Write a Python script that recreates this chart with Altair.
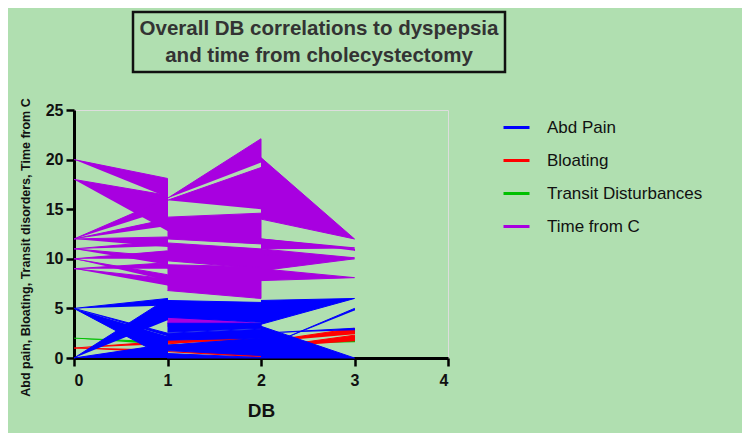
import altair as alt
import pandas as pd

series_names = ["Abd Pain", "Bloating", "Transit Disturbances", "Time from C"]
series_colors = ["#0000ff", "#ff0000", "#00c000", "#a800e0"]

# Each series is drawn as filled segments; (DB, value) pairs.
# Time from C
tc_x = [[0,1,1],[0,1,1],[0,1,1],[0,1,1],[0,1,1],[0,1,1],[0,1,1],[0,1,1],[0,1,1],[0,1,1],[0,1,1],
        [1,2,2],[1,2,2],[1,2,2,1],[1,2,2,1],[1,2,2,1],[1,2,1],[1,2,2],
        [2,3,2],[2,3,2],[2,3,2],[2,3,2],[2,3,2],[2,3,3]]
tc_y = [[20,18.1,16.2],[18,16.4,12.8],[12,16.1,15.0],[12,14,13.3],[12,12.2,11.2],[11,11.8,11.3],
        [11,10.2,9.4],[10,10.8,10],[10,8.4,7.8],[9,9.6,9.0],[9,8.0,7.3],
        [16.1,22.1,19.7],[15.9,19.2,15],[14.2,14.6,11.5,12],[11.6,11,9,9.8],[9.4,9.2,6,6.8],
        [4.2,3.5,3.2],[3.6,3.4,2.9],
        [20.2,12,14],[12,11.1,11],[11,10.1,9.6],[10.4,10,8.8],[9,8.1,7.8],[12,11,10.8]]

# Abd Pain
ap_x = [[0,1,1],[0,1,1],[0,1,1],[0,1,1],[0,1,1],
        [1,2,2,1],[1,2,2,1],[1,2,2,1],[1,2,2,1],[1,2,2,1],
        [2,3,2],[2,3,2],[2,3,3],[2,3,3]]
ap_y = [[5,6,5.3],[0,6,3.8],[5,0,2.2],[0,1.4,0],[5,2.5,2.2],
        [5.8,5.6,3.6,4.1],[3.5,3.5,3.0,2.6],[2.5,2.9,2.0,1.8],[1.3,2.0,0.25,0.75],[0.45,0.05,0,0],
        [5.8,6,3.4],[3.2,0,0],[1,5,4.8],[2.5,3,2.8]]

# Bloating
bl_x = [[0,1,1],[0,1,1],[1,2,1],[1,2,2],[1,2,2],[2,3,3],[2,3,3],[2,2,1]]
bl_y = [[1,0.8,0.5],[1,1.7,1.4],[1.5,1.9,1.8],[0.65,0.1,0.6],[1.4,2.6,2.1],
        [1.0,2.3,1.7],[1.6,3,2.4],[0.2,1.2,1.0]]

# Transit Disturbances
tr_x = [[0,1,1],[1,2,1],[2,3,3]]
tr_y = [[2,1.6,1.3],[1.3,1.5,1.15],[1.4,1.75,1.6]]

title_text = ["Overall DB correlations to dyspepsia", "and time from cholecystectomy"]

rows = []
for name, xs, ys in [("Abd Pain", ap_x, ap_y), ("Bloating", bl_x, bl_y),
                     ("Transit Disturbances", tr_x, tr_y), ("Time from C", tc_x, tc_y)]:
    for p, (px, py) in enumerate(zip(xs, ys)):
        for i, (xv, yv) in enumerate(zip(px, py)):
            rows.append({"series": name, "seg": f"{name}-{p}", "idx": i, "DB": xv, "value": yv})
df = pd.DataFrame(rows)

color_scale = alt.Scale(domain=series_names, range=series_colors)

x_enc = alt.X("DB:Q", scale=alt.Scale(domain=[0, 4], nice=False),
              axis=alt.Axis(values=[0, 1, 2, 3, 4], title="DB", grid=False,
                            titleFontSize=19, titleFontWeight="bold", titleColor="#111",
                            titleY=52, titleBaseline="middle",
                            labelFontSize=16, labelFontWeight="bold", labelColor="#111",
                            labelPadding=6,
                            domainColor="#000", domainWidth=3, tickColor="#000",
                            tickWidth=2.5, tickSize=8))
y_enc = alt.Y("value:Q", scale=alt.Scale(domain=[0, 25], nice=False),
              axis=alt.Axis(values=[0, 5, 10, 15, 20, 25],
                            title="Abd pain, Bloating, Transit disorders, Time from C",
                            grid=False, titleFontSize=12.5, titleFontWeight="bold",
                            titleColor="#111", titleAngle=-90, titleX=-49, titleY=137,
                            titleAlign="center", titleBaseline="middle",
                            labelFontSize=16, labelFontWeight="bold", labelColor="#111",
                            labelPadding=3,
                            domainColor="#000", domainWidth=3, tickColor="#000",
                            tickWidth=2.5, tickSize=8))

layers = []
for name in ["Time from C", "Transit Disturbances", "Bloating", "Abd Pain"]:
    c = series_colors[series_names.index(name)]
    layers.append(
        alt.Chart(df).transform_filter(alt.datum.series == name)
        .mark_line(fill=c, strokeWidth=1, strokeJoin="round")
        .encode(
            x=x_enc, y=y_enc,
            detail="seg:N",
            order=alt.Order("idx:Q"),
            color=alt.Color("series:N", scale=color_scale,
                            legend=alt.Legend(title=None, orient="none",
                                              legendX=428, legendY=3,
                                              symbolType="stroke", symbolSize=676,
                                              symbolStrokeWidth=3, labelFontSize=17,
                                              labelColor="#111", labelOffset=16,
                                              rowPadding=10, labelFont="Liberation Sans")),
        )
    )

# Title box (decoration)
one = pd.DataFrame({"a": [0]})
box = alt.Chart(one).mark_rect(
    fill="#b0dfb0", stroke="#111", strokeWidth=2.5
).encode(x=alt.value(59), x2=alt.value(431), y=alt.value(-98), y2=alt.value(-38))
t1 = alt.Chart(one).mark_text(
    fontSize=20.5, fontWeight="bold", color="#333", font="Liberation Sans",
    align="center", baseline="middle"
).encode(text=alt.value(title_text[0]), x=alt.value(245), y=alt.value(-81))
t2 = alt.Chart(one).mark_text(
    fontSize=20.5, fontWeight="bold", color="#333", font="Liberation Sans",
    align="center", baseline="middle"
).encode(text=alt.value(title_text[1]), x=alt.value(245), y=alt.value(-54))

chart = alt.layer(*layers, box, t1, t2).properties(
    width=374, height=248,
    autosize=alt.AutoSizeParams(type="none"),
    padding={"left": 66, "top": 102, "right": 294, "bottom": 75},
    background="#b0dfb0",
).configure_view(fill="#b3e8d8", stroke=None).configure(
    font="Liberation Sans"
)

chart.save("out.html", embed_options={"renderer": "svg", "actions": False})
